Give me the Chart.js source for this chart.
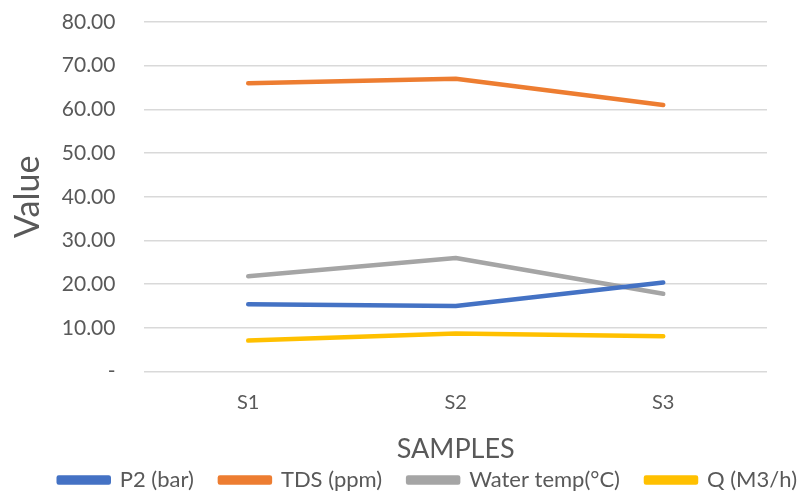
<!DOCTYPE html>
<html>
<head>
<meta charset="utf-8">
<script src="https://cdn.jsdelivr.net/npm/chart.js@4/dist/chart.umd.min.js"></script>
<style>
  html, body { margin: 0; padding: 0; background: #fff; }
  #wrap { width: 800px; height: 494px; }
</style>
</head>
<body>
<div id="wrap"><canvas id="chart"></canvas></div>
<script>
var samples = ["S1", "S2", "S3"];
var p2Bar = [15.4, 15.0, 20.4];
var tdsPpm = [66.0, 67.0, 61.0];
var waterTemp = [21.8, 26.0, 17.8];
var flowQ = [7.1, 8.7, 8.1];

var textColor = "#595959";
var fontName = "Lato, 'Open Sans', sans-serif";

function series(label, values, color) {
    return {
        label: label,
        data: values,
        borderColor: color,
        backgroundColor: color,
        borderWidth: 4.5,
        borderCapStyle: 'round',
        borderJoinStyle: 'round',
        pointRadius: 0,
        pointHoverRadius: 0,
        tension: 0,
        fill: false
    };
}

var ctx = document.getElementById("chart");

var myLineChart = new Chart(ctx, {
    type: 'line',
    data: {
        labels: samples,
        datasets: [
            series("P2 (bar)", p2Bar, "#4472C4"),
            series("TDS (ppm)", tdsPpm, "#ED7D31"),
            series("Water temp(°C)", waterTemp, "#A5A5A5"),
            series("Q (M3/h)", flowQ, "#FFC000")
        ]
    },
    options: {
        responsive: true,
        maintainAspectRatio: false,
        animation: false,
        layout: { padding: { left: 8, right: -23, top: 22, bottom: -7 } },
        plugins: {
            legend: {
                position: 'bottom',
                align: 'end',
                labels: {
                    color: textColor,
                    font: { family: fontName, size: 22 },
                    boxWidth: 50,
                    boxHeight: 5,
                    padding: 26
                }
            },
            tooltip: { enabled: false }
        },
        scales: {
            x: {
                offset: true,
                grid: { display: false },
                border: { display: false },
                ticks: {
                    color: textColor,
                    font: { family: fontName, size: 20 },
                    padding: 11
                },
                title: {
                    display: true,
                    text: "SAMPLES",
                    color: textColor,
                    font: { family: fontName, size: 27 },
                    padding: { top: 7, bottom: -22 }
                }
            },
            y: {
                min: 0,
                max: 80,
                grid: {
                    color: "#D9D9D9",
                    lineWidth: 1.5,
                    drawTicks: true,
                    tickLength: 26,
                    tickColor: "rgba(0,0,0,0)"
                },
                border: { display: false },
                ticks: {
                    stepSize: 10,
                    autoSkip: false,
                    color: textColor,
                    font: { family: fontName, size: 21 },
                    padding: 3,
                    callback: function(value) {
                        return value === 0 ? "-" : value.toFixed(2);
                    }
                },
                title: {
                    display: true,
                    text: "Value",
                    color: textColor,
                    font: { family: fontName, size: 34 },
                    padding: { top: 0, bottom: 10 }
                }
            },
            yRight: {
                position: 'right',
                min: 0,
                max: 80,
                grid: { display: false },
                border: { display: false },
                ticks: { display: false },
                afterFit: function(scale) { scale.width = 56; }
            }
        }
    }
});
</script>
</body>
</html>
